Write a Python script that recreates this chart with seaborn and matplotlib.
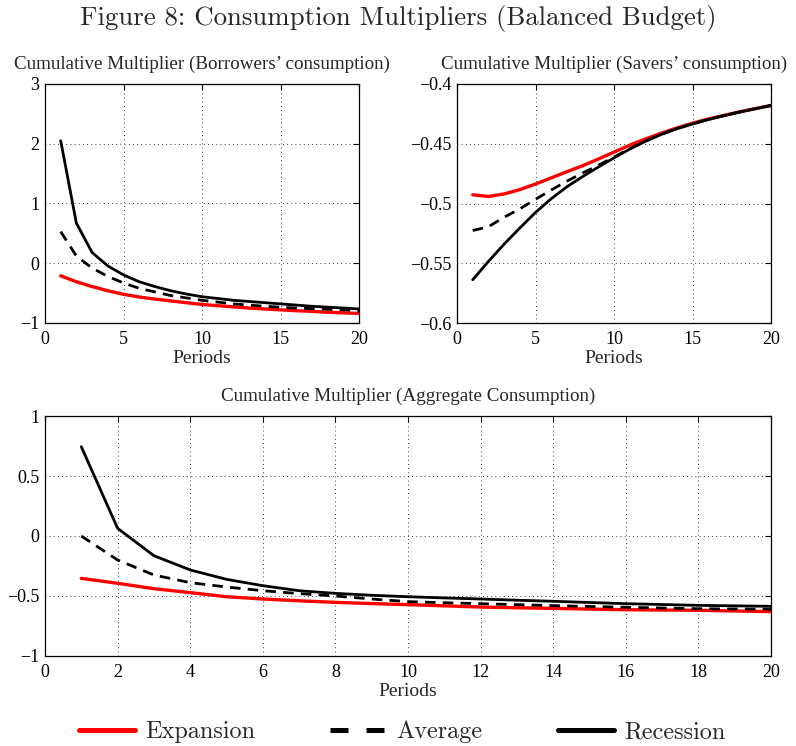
import numpy as np
import pandas as pd
import matplotlib.pyplot as plt
import seaborn as sns
from matplotlib.lines import Line2D

# Valores (multiplicadores acumulados)
periodos = list(range(1, 21))

borr_exp = [-0.21, -0.31, -0.39, -0.46, -0.52, -0.565, -0.60, -0.63, -0.66, -0.69,
            -0.71, -0.73, -0.75, -0.765, -0.78, -0.795, -0.805, -0.82, -0.83, -0.84]
borr_avg = [0.53, 0.12, -0.08, -0.22, -0.33, -0.42, -0.48, -0.54, -0.58, -0.62,
            -0.65, -0.68, -0.70, -0.72, -0.735, -0.75, -0.76, -0.77, -0.78, -0.79]
borr_rec = [2.05, 0.67, 0.18, -0.045, -0.195, -0.31, -0.39, -0.46, -0.515, -0.56,
            -0.59, -0.62, -0.64, -0.66, -0.68, -0.70, -0.72, -0.735, -0.75, -0.765]

sav_exp = [-0.4927, -0.4941, -0.4920, -0.4884, -0.4837, -0.4786, -0.4734, -0.4684, -0.4628, -0.4570,
           -0.4512, -0.4460, -0.4412, -0.4368, -0.4328, -0.4293, -0.4263, -0.4233, -0.4206, -0.4180]
sav_avg = [-0.5226, -0.5195, -0.5115, -0.5045, -0.4965, -0.4887, -0.4813, -0.4745, -0.4680, -0.4612,
           -0.4542, -0.4478, -0.4420, -0.4372, -0.4332, -0.4296, -0.4264, -0.4234, -0.4206, -0.4180]
sav_rec = [-0.5638, -0.5485, -0.5340, -0.5205, -0.5075, -0.4960, -0.4860, -0.4775, -0.4695, -0.4618,
           -0.4545, -0.4480, -0.4423, -0.4375, -0.4335, -0.4298, -0.4265, -0.4235, -0.4207, -0.4180]

agg_exp = [-0.353, -0.394, -0.439, -0.472, -0.506, -0.525, -0.540, -0.553, -0.563, -0.572,
           -0.582, -0.592, -0.598, -0.603, -0.609, -0.614, -0.617, -0.619, -0.625, -0.630]
agg_avg = [0.0, -0.20, -0.325, -0.389, -0.425, -0.456, -0.480, -0.500, -0.525, -0.547,
           -0.556, -0.564, -0.572, -0.580, -0.587, -0.594, -0.600, -0.606, -0.608, -0.610]
agg_rec = [0.744, 0.064, -0.164, -0.283, -0.361, -0.414, -0.456, -0.478, -0.494, -0.506,
           -0.516, -0.525, -0.535, -0.544, -0.554, -0.564, -0.571, -0.578, -0.582, -0.586]

cenarios = ['Expansion', 'Average', 'Recession']


def monta_df(exp, avg, rec):
    return pd.DataFrame({
        'Periods': periodos * 3,
        'valor': exp + avg + rec,
        'Cenario': [c for c in cenarios for _ in periodos],
    })


sns.set_style('white')
plt.rcParams['font.family'] = ['Liberation Serif', 'DejaVu Serif']
plt.rcParams['axes.unicode_minus'] = True

fig = plt.figure(figsize=(7.96, 7.46), dpi=100)
W, H = 796, 746


def eixo(l, t, r, b):
    return fig.add_axes([l / W, 1 - b / H, (r - l) / W, (b - t) / H])


ax1 = eixo(45, 84, 359, 323)
ax2 = eixo(457, 84, 771, 323)
ax3 = eixo(45, 416, 771, 656)

cores = {'Expansion': 'red', 'Average': 'black', 'Recession': 'black'}
tracos = {'Expansion': '', 'Average': (3.8, 2.6), 'Recession': ''}
larguras = {'Expansion': 2.4, 'Average': 2.0, 'Recession': 2.0}

paineis = [
    (ax1, monta_df(borr_exp, borr_avg, borr_rec), 'Cumulative Multiplier (Borrowers\u2019 consumption)',
     (-1, 3), [-1, 0, 1, 2, 3], [0, 5, 10, 15, 20], ['\u22121', '0', '1', '2', '3']),
    (ax2, monta_df(sav_exp, sav_avg, sav_rec), 'Cumulative Multiplier (Savers\u2019 consumption)',
     (-0.6, -0.4), [-0.6, -0.55, -0.5, -0.45, -0.4], [0, 5, 10, 15, 20],
     ['\u22120.6', '\u22120.55', '\u22120.5', '\u22120.45', '\u22120.4']),
    (ax3, monta_df(agg_exp, agg_avg, agg_rec), 'Cumulative Multiplier (Aggregate Consumption)',
     (-1, 1), [-1, -0.5, 0, 0.5, 1], list(range(0, 21, 2)), ['\u22121', '\u22120.5', '0', '0.5', '1']),
]

for ax, df, titulo, ylim, yt, xt, ytl in paineis:
    for c in cenarios:
        sns.lineplot(data=df[df['Cenario'] == c], x='Periods', y='valor', ax=ax,
                     color=cores[c], dashes=False, linewidth=larguras[c], legend=False)
        linha = ax.lines[-1]
        if tracos[c]:
            linha.set_dashes(tracos[c])
    ax.set_xlim(0, 20)
    ax.set_ylim(*ylim)
    ax.set_xticks(xt)
    ax.set_yticks(yt)
    ax.set_yticklabels(ytl)
    ax.set_xlabel('Periods', fontsize=14, labelpad=1)
    ax.set_ylabel('')
    ax.set_title(titulo, fontsize=13.7, pad=11)
    ax.grid(True, linestyle=(0, (1, 4)), color='black', linewidth=0.6)
    ax.tick_params(direction='in', top=True, right=True, length=4, width=0.8,
                   labelsize=13, colors='black')
    ax.tick_params(axis='x', pad=6)
    ax.tick_params(axis='y', pad=4)
    for s in ax.spines.values():
        s.set_color('black')
        s.set_linewidth(0.9)

fig.text(0.5, 1 - 19 / H, 'Figure 8: Consumption Multipliers (Balanced Budget)',
         ha='center', va='center', fontsize=19.3, family='cmr10')

handles = [Line2D([], [], color='red', linewidth=3.6),
           Line2D([], [], color='black', linewidth=3.6, dashes=(3.6, 3.6)),
           Line2D([], [], color='black', linewidth=3.6)]
fig.legend(handles, cenarios, loc='center', bbox_to_anchor=(0.505, 1 - 732 / H), ncol=3,
           frameon=False, prop={'family': 'cmr10', 'size': 17.5}, handlelength=2.3,
           columnspacing=3.1, handletextpad=0.42, borderpad=0, borderaxespad=0)

fig.savefig('out.png', dpi=100)
